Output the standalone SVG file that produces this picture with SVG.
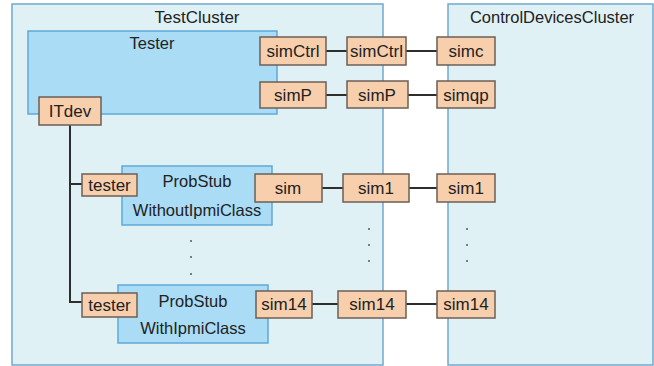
<svg xmlns="http://www.w3.org/2000/svg" width="654" height="366" viewBox="0 0 654 366">
<style>
.cl{fill:#e0f1f6;stroke:#6fa9cf;stroke-width:1.5}
.cls{fill:#aadcf5;stroke:#5ea9d8;stroke-width:1.5}
.pt{fill:#f8cfad;stroke:#6b5f57;stroke-width:1.5}
text{font-family:"Liberation Sans",Arial,sans-serif;font-size:17px;fill:#222;text-anchor:middle}
.bx{font-size:16.5px}
.ln{stroke:#2e2e2e;stroke-width:2;fill:none}
.dot{fill:#555}
</style>
<rect width="654" height="366" fill="#ffffff"/>
<g id="TestCluster">
<rect class="cl" x="12" y="4" width="371" height="361"/>
<text x="197" y="23">TestCluster</text>
</g>
<g id="ControlDevicesCluster">
<rect class="cl" x="448" y="4" width="205" height="361"/>
<text x="552" y="23" class="bx">ControlDevicesCluster</text>
</g>
<g id="Tester">
<rect class="cls" x="28" y="31" width="249" height="83"/>
<text x="152" y="49" class="bx">Tester</text>
</g>
<g id="ProbStubWithoutIpmiClass">
<rect class="cls" x="122" y="166" width="150" height="59"/>
<text x="197" y="187" class="bx">ProbStub</text>
<text x="197" y="216" class="bx">WithoutIpmiClass</text>
</g>
<g id="ProbStubWithIpmiClass">
<rect class="cls" x="118" y="285" width="150" height="58"/>
<text x="193" y="307" class="bx">ProbStub</text>
<text x="193" y="334" class="bx">WithIpmiClass</text>
</g>
<g id="connectors">
<line class="ln" x1="326" y1="51" x2="347" y2="51"/>
<line class="ln" x1="406" y1="51" x2="437" y2="51"/>
<line class="ln" x1="326" y1="95" x2="347" y2="95"/>
<line class="ln" x1="408" y1="95" x2="437" y2="95"/>
<line class="ln" x1="322" y1="188" x2="343" y2="188"/>
<line class="ln" x1="409" y1="188" x2="437" y2="188"/>
<line class="ln" x1="312" y1="304" x2="338" y2="304"/>
<line class="ln" x1="406" y1="304" x2="437" y2="304"/>
<path class="ln" d="M70 125 V302 H82 M70 184 H82"/>
</g>
<g id="port-simCtrl-tester"><rect class="pt" x="260" y="37" width="66" height="28"/><text x="293" y="57">simCtrl</text></g>
<g id="port-simP-tester"><rect class="pt" x="260" y="82" width="66" height="26"/><text x="293" y="101">simP</text></g>
<g id="port-ITdev"><rect class="pt" x="39" y="97" width="62" height="28"/><text x="70" y="117">ITdev</text></g>
<g id="port-simCtrl-mid"><rect class="pt" x="347" y="37" width="59" height="28"/><text x="376.5" y="57">simCtrl</text></g>
<g id="port-simc"><rect class="pt" x="437" y="37" width="58" height="28"/><text x="466" y="57">simc</text></g>
<g id="port-simP-mid"><rect class="pt" x="347" y="81" width="61" height="27"/><text x="377" y="101">simP</text></g>
<g id="port-simqp"><rect class="pt" x="437" y="81" width="58" height="27"/><text x="466" y="101">simqp</text></g>
<g id="port-tester1"><rect class="pt" x="82" y="174" width="55" height="22"/><text x="109.5" y="191">tester</text></g>
<g id="port-sim"><rect class="pt" x="255" y="174" width="67" height="28"/><text x="288" y="194">sim</text></g>
<g id="port-sim1-mid"><rect class="pt" x="343" y="174" width="66" height="28"/><text x="376" y="194">sim1</text></g>
<g id="port-sim1-right"><rect class="pt" x="437" y="174" width="58" height="28"/><text x="466" y="194">sim1</text></g>
<g id="port-tester2"><rect class="pt" x="82" y="293" width="55" height="24"/><text x="109.5" y="311">tester</text></g>
<g id="port-sim14-left"><rect class="pt" x="256" y="291" width="56" height="27"/><text x="284" y="310">sim14</text></g>
<g id="port-sim14-mid"><rect class="pt" x="338" y="291" width="68" height="27"/><text x="372" y="310">sim14</text></g>
<g id="port-sim14-right"><rect class="pt" x="437" y="291" width="58" height="27"/><text x="466" y="310">sim14</text></g>
<g id="ellipses">
<circle class="dot" cx="191" cy="241" r="1"/><circle class="dot" cx="191" cy="257" r="1"/><circle class="dot" cx="191" cy="274" r="1"/>
<circle class="dot" cx="369" cy="229" r="1"/><circle class="dot" cx="369" cy="245" r="1"/><circle class="dot" cx="369" cy="261" r="1"/>
<circle class="dot" cx="467" cy="229" r="1"/><circle class="dot" cx="467" cy="245" r="1"/><circle class="dot" cx="467" cy="261" r="1"/>
</g>
</svg>
